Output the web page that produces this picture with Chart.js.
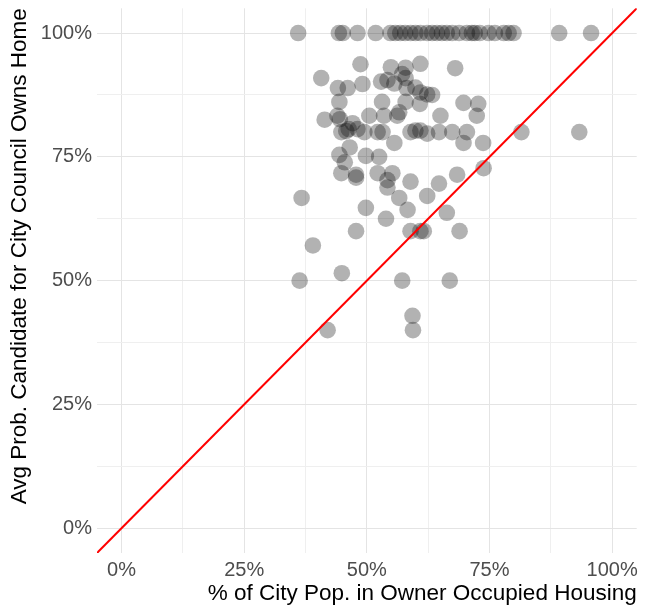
<!DOCTYPE html>
<html>
<head>
<meta charset="utf-8">
<script src="https://cdn.jsdelivr.net/npm/chart.js@4/dist/chart.umd.min.js"></script>
<style>
  html, body { margin: 0; padding: 0; background: #ffffff; }
  #wrap { width: 645px; height: 607px; }
</style>
</head>
<body>
<div id="wrap"><canvas id="c" width="645" height="607"></canvas></div>
<script>
// ---- Data ----
// Cities at 100% (top row)
const topRowX = [0.360, 0.443, 0.451, 0.481, 0.518, 0.548, 0.558, 0.568, 0.578, 0.589,
                 0.599, 0.609, 0.623, 0.633, 0.643, 0.653, 0.663, 0.674, 0.688, 0.704,
                 0.714, 0.720, 0.730, 0.748, 0.761, 0.779, 0.789, 0.799, 0.892, 0.957];
// Other cities: owner-occupied share (x) and avg. prob. candidate owns home (y)
const ownerShare = [
  0.487, 0.407, 0.549, 0.579, 0.609, 0.680, 0.441, 0.461, 0.491, 0.529,
  0.542, 0.556, 0.572, 0.579, 0.581, 0.599, 0.609, 0.623, 0.633, 0.444,
  0.440, 0.445, 0.414, 0.471, 0.448, 0.458, 0.463, 0.481, 0.495, 0.505,
  0.531, 0.535, 0.562, 0.566, 0.522, 0.532, 0.556, 0.579, 0.589, 0.599,
  0.609, 0.623, 0.608, 0.650, 0.647, 0.674, 0.697, 0.727, 0.724, 0.704,
  0.697, 0.737, 0.815, 0.933, 0.465, 0.444, 0.455, 0.498, 0.525, 0.448,
  0.478, 0.478, 0.522, 0.552, 0.542, 0.542, 0.589, 0.623, 0.566, 0.647,
  0.684, 0.738, 0.367, 0.498, 0.539, 0.583, 0.663, 0.478, 0.589, 0.609,
  0.616, 0.689, 0.390, 0.449, 0.363, 0.572, 0.669, 0.593, 0.594, 0.420
];
const candOwns = [
  0.937, 0.909, 0.931, 0.930, 0.938, 0.929, 0.889, 0.889, 0.897, 0.902,
  0.905, 0.898, 0.917, 0.909, 0.889, 0.890, 0.880, 0.876, 0.875, 0.861,
  0.833, 0.826, 0.825, 0.818, 0.800, 0.802, 0.806, 0.806, 0.800, 0.833,
  0.861, 0.833, 0.833, 0.840, 0.800, 0.800, 0.778, 0.861, 0.800, 0.803,
  0.803, 0.797, 0.857, 0.833, 0.800, 0.800, 0.859, 0.857, 0.833, 0.800,
  0.778, 0.778, 0.800, 0.800, 0.769, 0.754, 0.739, 0.752, 0.750, 0.717,
  0.714, 0.708, 0.717, 0.717, 0.703, 0.688, 0.700, 0.671, 0.667, 0.696,
  0.714, 0.727, 0.667, 0.647, 0.625, 0.643, 0.637, 0.600, 0.600, 0.600,
  0.600, 0.600, 0.571, 0.515, 0.500, 0.500, 0.500, 0.429, 0.400, 0.400
];
// Reference line y = x
const refLine = [-0.1, 1.1];
// Axis ticks
const gridVals = [0, 0.125, 0.25, 0.375, 0.5, 0.625, 0.75, 0.875, 1];
const tickLabels = ['0%', '', '25%', '', '50%', '', '75%', '', '100%'];
const axisMin = -0.05, axisMax = 1.05;

const points = topRowX.map(x => ({x: x, y: 1}))
  .concat(ownerShare.map((x, i) => ({x: x, y: candOwns[i]})));
const linePts = refLine.map(v => ({x: v, y: v}));

const FONT = "'Liberation Sans', Arial, Helvetica, sans-serif";
const gridColor = ctx => {
  const v = ctx.tick ? ctx.tick.value : 0;
  const i = gridVals.findIndex(g => Math.abs(g - v) < 1e-6);
  return (i % 2 === 0) ? '#e4e4e4' : '#efefef';
};
const tickCb = function(value) {
  const i = gridVals.findIndex(g => Math.abs(g - value) < 1e-6);
  return i >= 0 ? tickLabels[i] : '';
};
const setTicks = s => { s.ticks = gridVals.map(v => ({value: v})); };

new Chart(document.getElementById('c'), {
  type: 'scatter',
  data: {
    datasets: [
      {
        type: 'line',
        data: linePts,
        borderColor: '#ff0000',
        borderWidth: 2,
        pointRadius: 0,
        fill: false,
        order: 0
      },
      {
        data: points,
        backgroundColor: 'rgba(0,0,0,0.3)',
        borderWidth: 0,
        pointRadius: 8.3,
        pointHoverRadius: 8.3,
        order: 1
      }
    ]
  },
  options: {
    responsive: false,
    animation: false,
    layout: { padding: { left: 0, right: 4, top: 8, bottom: 0 } },
    plugins: { legend: { display: false }, tooltip: { enabled: false } },
    scales: {
      x: {
        type: 'linear',
        min: axisMin, max: axisMax,
        afterBuildTicks: setTicks,
        afterFit: s => { s.height = 54; s.paddingLeft = 0; s.paddingRight = 0; },
        border: { display: false },
        grid: { color: gridColor, lineWidth: 1, drawTicks: false },
        ticks: { callback: tickCb, autoSkip: false, maxRotation: 0,
                 color: '#4d4d4d', padding: 5, font: { family: FONT, size: 20 } },
        title: { display: true, text: '% of City Pop. in Owner Occupied Housing', align: 'end',
                 color: '#000000', font: { family: FONT, size: 22.5 }, padding: { top: 0, bottom: 0 } }
      },
      y: {
        type: 'linear',
        min: axisMin, max: axisMax,
        afterBuildTicks: setTicks,
        afterFit: s => { s.width = 97; s.paddingTop = 0; s.paddingBottom = 0; },
        border: { display: false },
        grid: { color: gridColor, lineWidth: 1, drawTicks: false },
        ticks: { callback: tickCb, autoSkip: false,
                 color: '#4d4d4d', padding: 5, font: { family: FONT, size: 20 } },
        title: { display: true, text: 'Avg Prob. Candidate for City Council Owns Home', align: 'end',
                 color: '#000000', font: { family: FONT, size: 22.5 }, padding: { top: 6, bottom: 0 } }
      }
    }
  }
});
</script>
</body>
</html>
